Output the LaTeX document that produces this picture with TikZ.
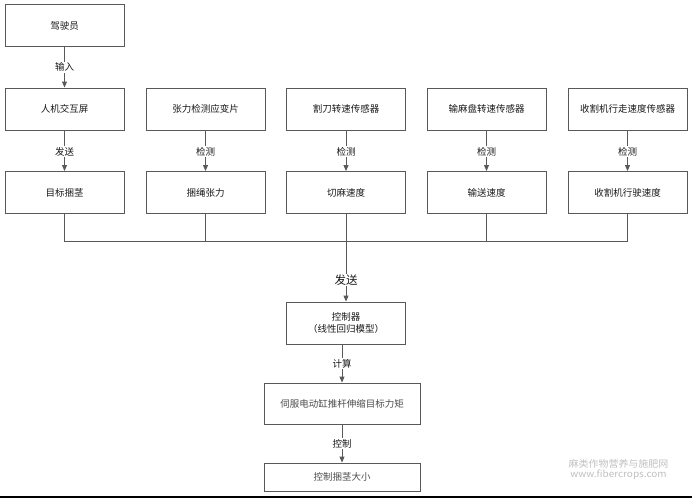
\documentclass[tikz,border=0pt]{standalone}
\usepackage{fontspec}
\setmainfont{Noto Sans CJK SC}
\usetikzlibrary{arrows.meta}
\tikzset{
  box/.style={draw=black!65, line width=0.9pt, minimum width=119pt, minimum height=42pt, inner sep=0pt, font=\fontsize{9.5}{12}\selectfont, text=black!90, align=center},
  lbl/.style={fill=white, inner sep=1pt, font=\fontsize{9.5}{11}\selectfont, text=black!90},
  link/.style={draw=black!65, line width=0.9pt},
  arr/.style={link, -{Triangle[length=6pt,width=5pt]}},
}
\begin{document}
\begin{tikzpicture}[x=1pt,y=-1pt]
\useasboundingbox (0,0) rectangle (692,498);
% first column
\node[box] (drv) at (64.5,25.5) {驾驶员};
\node[box] (hmi) at (64.5,109) {人机交互屏};
\node[box] (tgt) at (64.5,192.5) {目标捆茎};
% sensors
\node[box] (gauge) at (205.5,109) {张力检测应变片};
\node[box] (ten) at (205.5,192.5) {捆绳张力};
\node[box] (knife) at (346,109) {割刀转速传感器};
\node[box] (cut) at (346,192.5) {切麻速度};
\node[box] (disc) at (486.5,109) {输麻盘转速传感器};
\node[box] (feed) at (486.5,192.5) {输送速度};
\node[box] (walk) at (627.5,109) {收割机行走速度传感器};
\node[box] (drive) at (627.5,192.5) {收割机行驶速度};
% controller chain
\node[box] (ctrl) at (346,323) {控制器\\（线性回归模型）};
\node[box, minimum width=156pt, minimum height=41pt, text=black!70] (servo) at (342,403.5) {伺服电动缸推杆伸缩目标力矩};
\node[box, minimum width=156pt, minimum height=28pt, text=black!70] (size) at (342,477) {控制捆茎大小};
\coordinate (bus) at (346,241);
\draw[arr] (drv) -- node[lbl] {输入} (hmi);
\draw[arr] (hmi) -- node[lbl, pos=0.52] {发送} (tgt);
\draw[arr] (gauge) -- node[lbl, pos=0.52] {检测} (ten);
\draw[arr] (knife) -- node[lbl, pos=0.52] {检测} (cut);
\draw[arr] (disc) -- node[lbl, pos=0.52] {检测} (feed);
\draw[arr] (walk) -- node[lbl, pos=0.52] {检测} (drive);
\draw[link] (tgt.south) |- (bus);
\draw[link] (ten.south) |- (bus);
\draw[link] (feed.south) |- (bus);
\draw[link] (drive.south) |- (bus);
\draw[arr] (cut.south) -- (ctrl.north);
\node[lbl, font=\fontsize{11.5}{13}\selectfont] (send) at (346,280) {发送};
\draw[arr] (servo.north |- ctrl.south) -- node[lbl] {计算} (servo.north);
\draw[arr] (servo) -- node[lbl] {控制} (size);
% watermark and rule
\node[text=black!25, font=\fontsize{9.5}{9.5}\selectfont, align=center, inner sep=0pt, xscale=1.05] (mark) at (618.5,469.5) {麻类作物营养与施肥网\\www.fibercrops.com};
\draw[line width=2pt] (0,496.5) -- (692,496.5);
\end{tikzpicture}
\end{document}
